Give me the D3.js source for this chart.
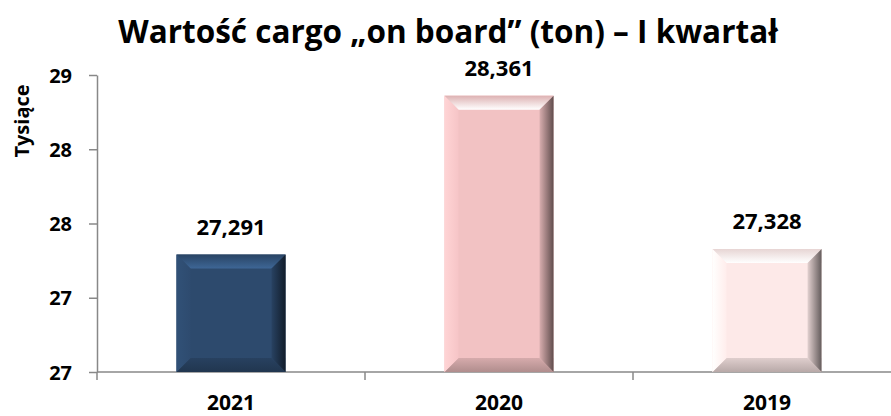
<!DOCTYPE html>
<html>
<head>
<meta charset="utf-8">
<script src="https://cdn.jsdelivr.net/npm/d3@7"></script>
<style>
  html, body { margin: 0; padding: 0; background: #fff; }
  #chart { width: 891px; height: 416px; }
  text { font-family: "Open Sans", Lato, sans-serif; font-weight: bold; fill: #000; }
</style>
</head>
<body>
<div id="chart"></div>
<script>
// dane
const years = ['2021', '2020', '2019'];
const values = [27291, 28361, 27328];
const barColors = ['#2D4A6D', '#F2C2C3', '#FDE9E8'];
const yTicks = [26500, 27000, 27500, 28000, 28500];
const title = 'Wartość cargo „on board” (ton) – I kwartał';
const yTitle = 'Tysiące';

const width_svg = 891, height_svg = 416;
const margin = {top: 75, right: -10, bottom: 44, left: 97};

const svg = d3.select('#chart').append('svg')
  .attr('width', width_svg)
  .attr('height', height_svg);

const xScale = d3.scaleBand()
  .domain(years)
  .range([margin.left, width_svg - margin.right])
  .paddingInner(0.593)
  .paddingOuter(0.2965);

const yScale = d3.scaleLinear()
  .domain([26500, 28500])
  .range([height_svg - margin.bottom, margin.top]);

const axisColor = '#888';
const y0 = yScale.range()[0];

// tytuł
svg.append('text')
  .attr('x', 448)
  .attr('y', 43)
  .attr('text-anchor', 'middle')
  .attr('font-size', '31.5px')
  .text(title);

// oś Y
const yAxis = g => g.attr('transform', `translate(${margin.left},0)`)
  .call(d3.axisLeft(yScale).tickValues(yTicks).tickFormat(d => Math.round(d / 1000)).tickSize(8).tickPadding(17).tickSizeOuter(0))
  .call(g => g.select('.domain').attr('stroke', axisColor).attr('stroke-width', 1.5))
  .call(g => g.selectAll('.tick line').attr('stroke', axisColor).attr('stroke-width', 1.5))
  .call(g => g.selectAll('.tick text')
              .attr('font-size', '20px')
              .attr('font-family', null)
              .attr('dy', '0.36em'));
svg.append('g').call(yAxis);

svg.append('text')
  .attr('transform', `translate(29, 121) rotate(-90)`)
  .attr('text-anchor', 'middle')
  .attr('font-size', '20px')
  .text(yTitle);

// oś X
const gx = svg.append('g');
gx.append('line')
  .attr('x1', xScale.range()[0]).attr('x2', xScale.range()[1])
  .attr('y1', y0).attr('y2', y0)
  .attr('stroke', axisColor).attr('stroke-width', 1.5);
gx.selectAll('line.tick')
  .data(d3.range(years.length + 1))
  .enter().append('line')
  .attr('class', 'tick')
  .attr('x1', i => xScale.range()[0] + i * xScale.step())
  .attr('x2', i => xScale.range()[0] + i * xScale.step())
  .attr('y1', y0).attr('y2', y0 + 8)
  .attr('stroke', axisColor).attr('stroke-width', 1.5);
gx.selectAll('text')
  .data(years)
  .enter().append('text')
  .attr('x', d => xScale(d) + xScale.bandwidth() / 2)
  .attr('y', 410)
  .attr('text-anchor', 'middle')
  .attr('font-size', '21px')
  .text(d => d);

// gradienty dla efektu fazy
const defs = svg.append('defs');
function grad(id, c0, c1, horizontal){
  const g = defs.append('linearGradient').attr('id', id)
    .attr('x1', 0).attr('y1', 0)
    .attr('x2', horizontal ? 1 : 0).attr('y2', horizontal ? 0 : 1);
  g.append('stop').attr('offset', '0%').attr('stop-color', c0);
  g.append('stop').attr('offset', '100%').attr('stop-color', c1);
}
barColors.forEach((c, i) => {
  const base = d3.color(c);
  grad(`top_${i}`, base.darker(0.25), base.brighter(0.9), false);
  grad(`left_${i}`, base.brighter(0.25), base.brighter(0.05), true);
  grad(`right_${i}`, base.darker(0.3), base.darker(2.6), true);
  grad(`bottom_${i}`, base.darker(0.35), base.darker(0.9), false);
});

// słupki
const bev = 14;
const bars = svg.selectAll('g.bar')
  .data(values)
  .enter().append('g')
  .attr('class', 'bar');

bars.each(function(d, i){
  const g = d3.select(this);
  const x0 = xScale(years[i]), x1 = x0 + xScale.bandwidth();
  const yt = yScale(d), yb = y0;
  g.append('rect')
    .attr('x', x0).attr('y', yt)
    .attr('width', x1 - x0).attr('height', yb - yt)
    .attr('fill', barColors[i]);
  const poly = (pts, fill) => g.append('polygon')
    .attr('points', pts.map(p => p.join(',')).join(' '))
    .attr('fill', fill);
  poly([[x0, yt], [x1, yt], [x1 - bev, yt + bev], [x0 + bev, yt + bev]], `url(#top_${i})`);
  poly([[x0, yb], [x1, yb], [x1 - bev, yb - bev], [x0 + bev, yb - bev]], `url(#bottom_${i})`);
  poly([[x0, yt], [x0 + bev, yt + bev], [x0 + bev, yb - bev], [x0, yb]], `url(#left_${i})`);
  poly([[x1, yt], [x1 - bev, yt + bev], [x1 - bev, yb - bev], [x1, yb]], `url(#right_${i})`);
});

// etykiety wartości
svg.selectAll('text.val')
  .data(values)
  .enter().append('text')
  .attr('class', 'val')
  .attr('x', (d, i) => xScale(years[i]) + xScale.bandwidth() / 2)
  .attr('y', d => yScale(d) - 20)
  .attr('text-anchor', 'middle')
  .attr('font-size', '22px')
  .text(d => d3.format(',')(d));
</script>
</body>
</html>
